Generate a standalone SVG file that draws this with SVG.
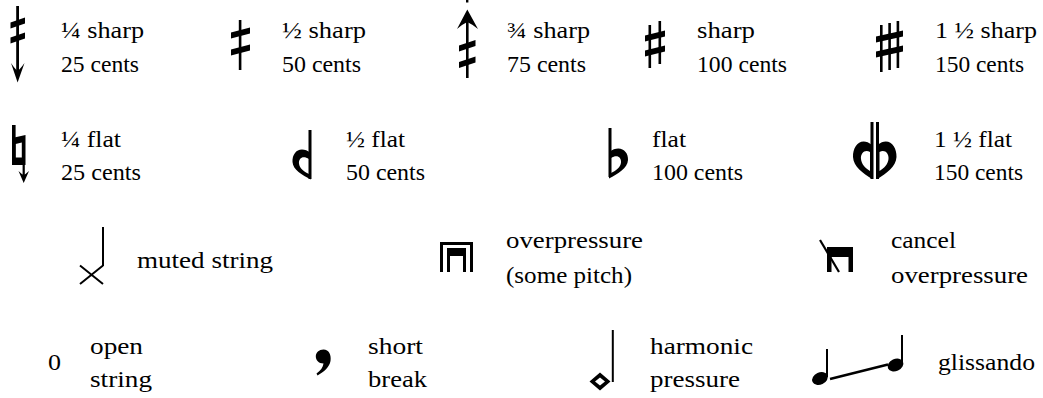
<svg xmlns="http://www.w3.org/2000/svg" width="1043" height="398" viewBox="0 0 1043 398">
<style>
.t{fill:#000}
.s{fill:#000}
.ln{stroke:#000;fill:none}
</style>
<rect width="1043" height="398" fill="#fff"/>
<g font-family="Liberation Serif, serif" font-size="24">

<g id="quarter-sharp">
<rect class="s" x="16.2" y="6" width="2.8" height="68"/>
<path class="s" d="M10.5,22.5 L25,17.5 L25,23.5 L10.5,28.5 Z"/>
<path class="s" d="M10.5,37.5 L25,32.5 L25,38.5 L10.5,43.5 Z"/>
<path class="s" d="M17.6,82.5 L11,63 Q15,69 17.6,71 Q20.2,69 24.5,63 Z"/>
<text class="t" x="61" y="38" textLength="83" lengthAdjust="spacingAndGlyphs">¼ sharp</text>
<text class="t" x="61" y="72" textLength="78" lengthAdjust="spacingAndGlyphs">25 cents</text>
</g>

<g id="half-sharp">
<rect class="s" x="238.8" y="20" width="2.6" height="50"/>
<path class="s" d="M231,32.5 L250,27.5 L250,33.5 L231,38.5 Z"/>
<path class="s" d="M231,49.5 L250,44.5 L250,50.5 L231,55.5 Z"/>
<text class="t" x="282" y="38" textLength="84" lengthAdjust="spacingAndGlyphs">½ sharp</text>
<text class="t" x="282" y="72" textLength="79" lengthAdjust="spacingAndGlyphs">50 cents</text>
</g>

<g id="three-quarter-sharp">
<rect class="s" x="466" y="0" width="2.4" height="2.5"/>
<rect class="s" x="466" y="20" width="2.6" height="58"/>
<path class="s" d="M467.3,9.5 L457,29 Q461,25 467.3,22 Q473.6,25 478,29 Z"/>
<path class="s" d="M459,45.5 L475.5,40 L475.5,46 L459,51.5 Z"/>
<path class="s" d="M459,62 L475.5,56.5 L475.5,62.5 L459,68 Z"/>
<text class="t" x="507" y="38" textLength="83" lengthAdjust="spacingAndGlyphs">¾ sharp</text>
<text class="t" x="507" y="72" textLength="79" lengthAdjust="spacingAndGlyphs">75 cents</text>
</g>

<g id="sharp">
<rect class="s" x="648.5" y="25" width="2.6" height="43"/>
<rect class="s" x="658.5" y="21" width="2.6" height="43"/>
<path class="s" d="M645,35.5 L665,30.5 L665,36.5 L645,41.5 Z"/>
<path class="s" d="M645,50.5 L665,45.5 L665,51.5 L645,56.5 Z"/>
<text class="t" x="697" y="38" textLength="58" lengthAdjust="spacingAndGlyphs">sharp</text>
<text class="t" x="697" y="72" textLength="90" lengthAdjust="spacingAndGlyphs">100 cents</text>
</g>

<g id="sharp-and-half">
<rect class="s" x="880" y="25" width="2.6" height="47"/>
<rect class="s" x="888.3" y="23" width="2.6" height="47"/>
<rect class="s" x="896.6" y="21" width="2.6" height="47"/>
<path class="s" d="M876,36.5 L903,30.5 L903,36.5 L876,42.5 Z"/>
<path class="s" d="M876,51.5 L903,45.5 L903,51.5 L876,57.5 Z"/>
<text class="t" x="935" y="38" textLength="102" lengthAdjust="spacingAndGlyphs">1 ½ sharp</text>
<text class="t" x="935" y="72" textLength="89" lengthAdjust="spacingAndGlyphs">150 cents</text>
</g>

<g id="quarter-flat">
<rect class="s" x="12" y="125" width="3.6" height="40"/>
<path class="s" fill-rule="evenodd" d="M12,138 L25.5,135 L25.5,165 L12,165 Z M15.6,144 L21.8,142.5 L21.8,157.5 L15.6,157.5 Z"/>
<rect class="s" x="22.6" y="164" width="2.2" height="12"/>
<path class="s" d="M23.7,183 L18.5,171 Q21.5,174 23.7,175 Q25.9,174 29,171 Z"/>
<text class="t" x="61" y="147" textLength="60" lengthAdjust="spacingAndGlyphs">¼ flat</text>
<text class="t" x="61" y="180" textLength="80" lengthAdjust="spacingAndGlyphs">25 cents</text>
</g>

<g id="half-flat">
<rect class="s" x="308.5" y="130" width="3" height="49"/>
<path class="s" fill-rule="evenodd" d="M311,153 C300,145 292,152 292.5,162 C293,170 302,175 311,179.5 Z M309,159 C303,155 298.5,158 299,163.5 C299.5,168 303.5,171.5 309,174 Z"/>
<text class="t" x="346" y="147" textLength="59" lengthAdjust="spacingAndGlyphs">½ flat</text>
<text class="t" x="346" y="180" textLength="79" lengthAdjust="spacingAndGlyphs">50 cents</text>
</g>

<g id="flat">
<rect class="s" x="608.5" y="128" width="3" height="49"/>
<path class="s" fill-rule="evenodd" d="M609,152 C620,144 628.5,151 628,160 C627.5,168 618,174 609,178.5 Z M611,158 C617,154 621.5,157 621,162.5 C620.5,167 616.5,170.5 611,173 Z"/>
<text class="t" x="652" y="147" textLength="34" lengthAdjust="spacingAndGlyphs">flat</text>
<text class="t" x="652" y="180" textLength="91" lengthAdjust="spacingAndGlyphs">100 cents</text>
</g>

<g id="flat-and-half">
<rect class="s" x="870.5" y="122" width="3" height="57"/>
<rect class="s" x="876" y="122" width="3" height="57"/>
<path class="s" fill-rule="evenodd" d="M872,145 C861,136 852.5,146 853,157 C853.5,167 863,173 872,179 Z M870,152 C865,149 860.5,153 861,159 C861.5,164 865,168 870,171 Z"/>
<path class="s" fill-rule="evenodd" d="M877.5,145 C888.5,136 897,146 896.5,157 C896,167 886.5,173 877.5,179 Z M879.5,152 C884.5,149 889,153 888.5,159 C888,164 884.5,168 879.5,171 Z"/>
<text class="t" x="934" y="147" textLength="78" lengthAdjust="spacingAndGlyphs">1 ½ flat</text>
<text class="t" x="934" y="180" textLength="89" lengthAdjust="spacingAndGlyphs">150 cents</text>
</g>

<g id="muted-string">
<path class="ln" stroke-width="2" d="M103,227 L103,266 M80,265.5 L103,284 M80,284 L103,265.5"/>
<text class="t" x="137" y="268" textLength="136" lengthAdjust="spacingAndGlyphs">muted string</text>
</g>

<g id="overpressure">
<path class="s" d="M440,242 L473,242 L473,272 L470,272 L470,245 L443,245 L443,272 L440,272 Z"/>
<path class="s" d="M447,248 L466,248 L466,272 L463,272 L463,256 L450,256 L450,272 L447,272 Z"/>
<text class="t" x="506" y="248" textLength="137" lengthAdjust="spacingAndGlyphs">overpressure</text>
<text class="t" x="506" y="283" textLength="126" lengthAdjust="spacingAndGlyphs">(some pitch)</text>
</g>

<g id="cancel-overpressure">
<path class="s" d="M827,247 L853,247 L853,272 L848.5,272 L848.5,257 L831.5,257 L831.5,272 L827,272 Z"/>
<path class="ln" stroke-width="2.2" d="M820,240 L839,272"/>
<text class="t" x="891" y="248" textLength="65" lengthAdjust="spacingAndGlyphs">cancel</text>
<text class="t" x="891" y="283" textLength="137" lengthAdjust="spacingAndGlyphs">overpressure</text>
</g>

<g id="open-string">
<text class="t" x="48" y="370" textLength="13" lengthAdjust="spacingAndGlyphs">0</text>
<text class="t" x="90" y="354" textLength="53" lengthAdjust="spacingAndGlyphs">open</text>
<text class="t" x="90" y="387" textLength="62" lengthAdjust="spacingAndGlyphs">string</text>
</g>

<g id="short-break">
<path class="s" d="M323.5,349.5 C329,349.5 331.5,355 330.5,361 C329.5,367 324,372 317.5,375.5 L316.5,373.5 C320.5,370.5 323,367.5 323.5,363.5 C318.5,363.5 315.8,360 315.8,356.5 C315.8,352.5 319,349.5 323.5,349.5 Z"/>
<text class="t" x="368" y="354" textLength="55" lengthAdjust="spacingAndGlyphs">short</text>
<text class="t" x="368" y="387" textLength="59" lengthAdjust="spacingAndGlyphs">break</text>
</g>

<g id="harmonic-pressure">
<rect class="s" x="611.8" y="330" width="2" height="52"/>
<path class="s" fill-rule="evenodd" d="M600,372.5 L610.5,381.5 L600,390.5 L589.5,381.5 Z M600,377.5 L605,381.5 L600,385.5 L595,381.5 Z"/>
<text class="t" x="650" y="354" textLength="103" lengthAdjust="spacingAndGlyphs">harmonic</text>
<text class="t" x="650" y="387" textLength="90" lengthAdjust="spacingAndGlyphs">pressure</text>
</g>

<g id="glissando">
<rect class="s" x="826" y="349" width="2" height="28"/>
<ellipse class="s" cx="820" cy="378.5" rx="8.2" ry="6" transform="rotate(-25 820 378.5)"/>
<rect class="s" x="901" y="335" width="2" height="29"/>
<ellipse class="s" cx="895.5" cy="365" rx="8.2" ry="6" transform="rotate(-25 895.5 365)"/>
<path class="ln" stroke-width="2.4" d="M830,379 L888,364.5"/>
<text class="t" x="938" y="370" textLength="97" lengthAdjust="spacingAndGlyphs">glissando</text>
</g>

</g>
</svg>
